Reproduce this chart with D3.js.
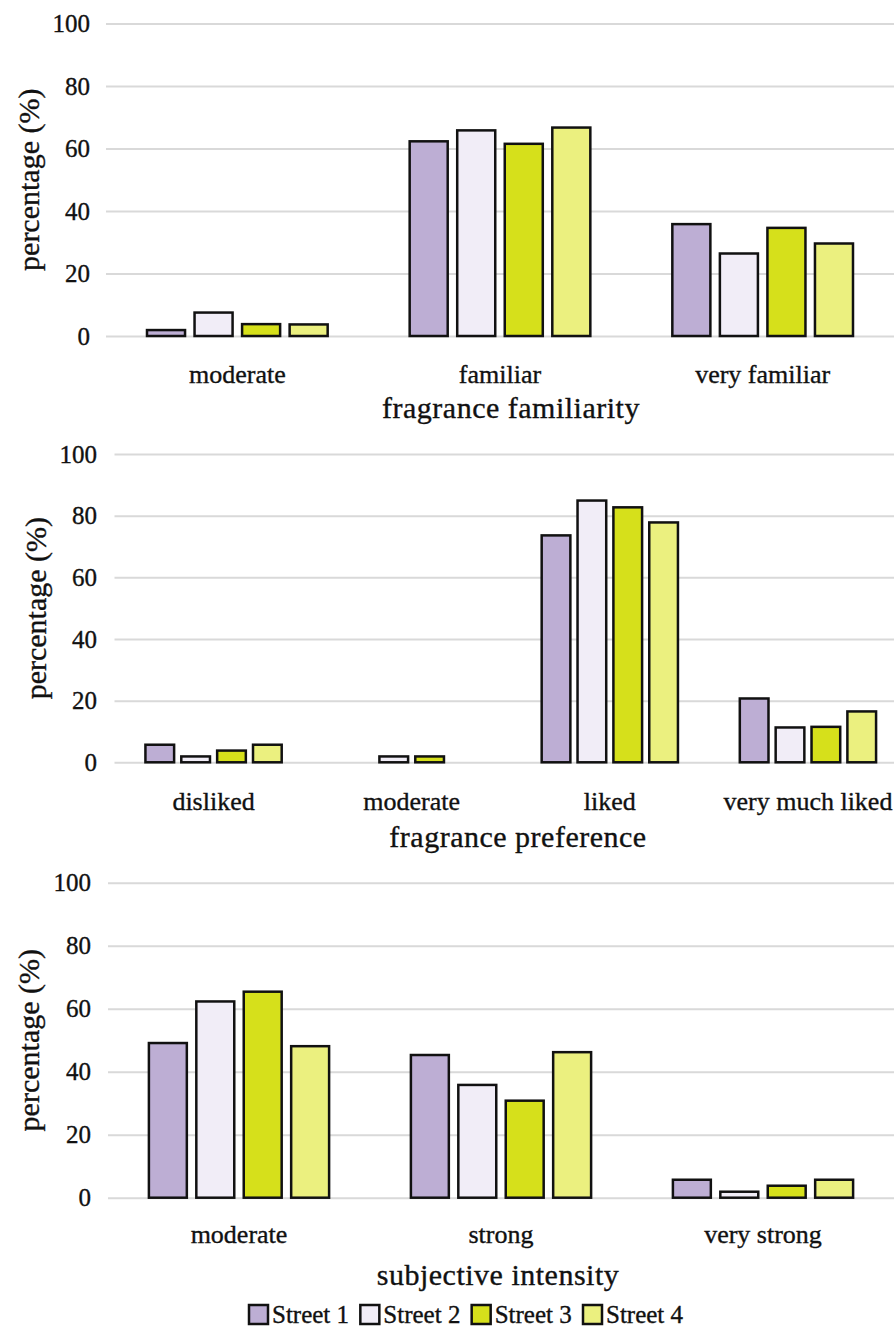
<!DOCTYPE html>
<html>
<head>
<meta charset="utf-8">
<script src="https://cdn.jsdelivr.net/npm/d3@7"></script>
<style>
  body { margin: 0; background: #fff; }
</style>
</head>
<body>
<div class="chart"></div>
<script>
const width = 894;
const height = 1329;
const font = "'Liberation Serif', 'DejaVu Serif', serif";

const streets = ["Street 1", "Street 2", "Street 3", "Street 4"];
const colors = ["#bdaed4", "#f1edf7", "#d6e01b", "#ebf07f"];
const yTicks = [0, 20, 40, 60, 80, 100];

// fragrance familiarity, one array per street
const familiarityCats = ["moderate", "familiar", "very familiar"];
const familiarityValues = [
	[1.9, 62.3, 35.8],
	[7.5, 65.8, 26.4],
	[3.8, 61.5, 34.6],
	[3.7, 66.7, 29.6]
];

// fragrance preference
const preferenceCats = ["disliked", "moderate", "liked", "very much liked"];
const preferenceValues = [
	[5.7, 0, 73.6, 20.7],
	[1.9, 1.9, 84.9, 11.3],
	[3.8, 1.9, 82.7, 11.5],
	[5.7, 0, 77.8, 16.5]
];

// subjective intensity
const intensityCats = ["moderate", "strong", "very strong"];
const intensityValues = [
	[49.1, 45.3, 5.7],
	[62.3, 35.8, 1.9],
	[65.4, 30.8, 3.8],
	[48.1, 46.2, 5.7]
];

const panels = [
	{ cats: familiarityCats, values: familiarityValues, title: "fragrance familiarity",
	  x: [106, 894], y: [336, 23.5], tickX: 90, labelY: 383, titleY: 418, titleX: 511, yTitleX: 28 },
	{ cats: preferenceCats, values: preferenceValues, title: "fragrance preference",
	  x: [114.5, 907], y: [762.3, 454], tickX: 97, labelY: 810, titleY: 847, titleX: 518, yTitleX: 35 },
	{ cats: intensityCats, values: intensityValues, title: "subjective intensity",
	  x: [108, 894], y: [1197.7, 882.7], tickX: 91, labelY: 1243, titleY: 1285, titleX: 498, yTitleX: 28 }
];

const svg = d3.select(".chart")
	.append("svg")
	.attr("width", width)
	.attr("height", height)
	.style("font-family", font);

const color = d3.scaleOrdinal().domain(streets).range(colors);

// slightly heavier glyphs, like the scanned original
const ink = sel => sel
	.style("font-family", font)
	.attr("fill", "#111")
	.attr("stroke", "#111")
	.attr("stroke-width", 0.35);

panels.forEach(p => {
	const g = svg.append("g");

	const x0 = d3.scaleBand()
		.domain(p.cats)
		.range(p.x);
	const groupW = x0.bandwidth() * 0.724;
	const x1 = d3.scaleBand()
		.domain(streets)
		.range([0, groupW])
		.paddingInner(0.2)
		.paddingOuter(0.1);
	const y = d3.scaleLinear()
		.domain([0, 100])
		.range(p.y);

	// gridlines
	g.append("g")
		.attr("transform", `translate(${p.x[0]},0)`)
		.call(d3.axisLeft(y).tickValues(yTicks).tickSize(-(p.x[1] - p.x[0])).tickFormat(""))
		.call(a => a.select(".domain").remove())
		.call(a => a.selectAll("line").attr("stroke", "#d9d9d9").attr("stroke-width", 2));

	// y tick labels
	g.selectAll(".ylab")
		.data(yTicks)
		.enter()
		.append("text")
		.attr("x", p.tickX)
		.attr("y", d => y(d))
		.attr("dy", "0.35em")
		.attr("text-anchor", "end")
		.style("font-size", "25px")
		.call(ink)
		.text(d => d);

	// y title
	g.append("text")
		.attr("transform", `translate(${p.yTitleX},${(p.y[0] + p.y[1]) / 2}) rotate(-90)`)
		.attr("dy", "0.35em")
		.attr("text-anchor", "middle")
		.style("font-size", "30px")
		.call(ink)
		.text("percentage (%)");

	// bars
	const rows = [];
	streets.forEach((s, i) => {
		p.cats.forEach((c, j) => {
			if (p.values[i][j] > 0) rows.push({ street: s, cat: c, v: p.values[i][j] });
		});
	});

	g.selectAll(".bar")
		.data(rows)
		.enter()
		.append("rect")
		.attr("class", "bar")
		.attr("x", d => x0(d.cat) + (x0.bandwidth() - groupW) / 2 + x1(d.street))
		.attr("width", x1.bandwidth())
		.attr("y", d => y(d.v))
		.attr("height", d => y(0) - y(d.v))
		.attr("fill", d => color(d.street))
		.attr("stroke", "#111")
		.attr("stroke-width", 2.5);

	// category labels
	g.selectAll(".cat")
		.data(p.cats)
		.enter()
		.append("text")
		.attr("x", d => x0(d) + x0.bandwidth() / 2)
		.attr("y", p.labelY)
		.attr("text-anchor", "middle")
		.style("font-size", "26px")
		.call(ink)
		.text(d => d);

	// x title
	g.append("text")
		.attr("x", p.titleX)
		.attr("y", p.titleY)
		.attr("text-anchor", "middle")
		.style("font-size", "30px")
		.style("letter-spacing", "0.5px")
		.call(ink)
		.text(p.title);
});

// legend
const legendX = d3.scalePoint().domain(streets).range([249, 583]);
const legend = svg.selectAll(".legend")
	.data(streets)
	.enter()
	.append("g")
	.attr("class", "legend")
	.attr("transform", d => `translate(${legendX(d)},1305)`);

legend.append("rect")
	.attr("width", 19)
	.attr("height", 19)
	.attr("fill", color)
	.attr("stroke", "#111")
	.attr("stroke-width", 2.5);

legend.append("text")
	.attr("x", 23)
	.attr("y", 18)
	.style("font-size", "25px")
	.call(ink)
	.text(d => d);
</script>
</body>
</html>
